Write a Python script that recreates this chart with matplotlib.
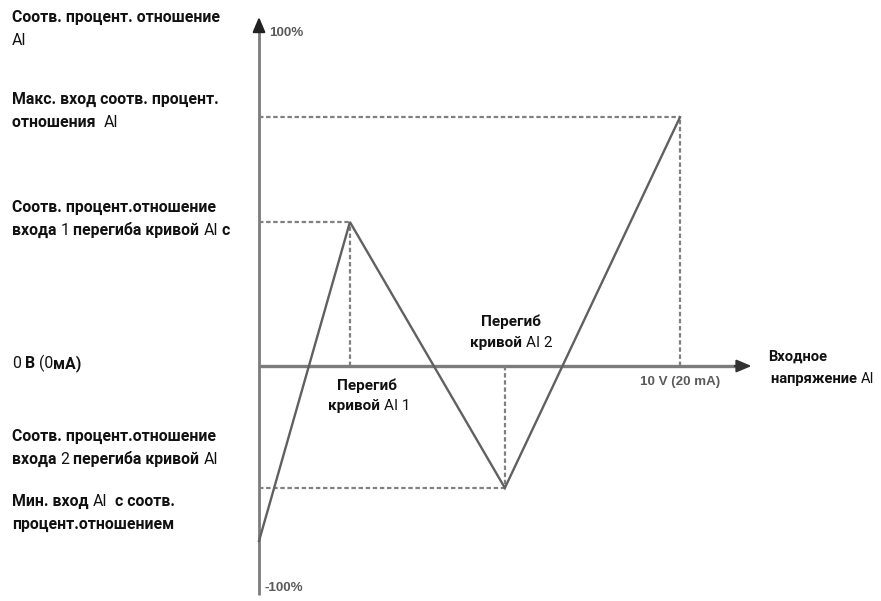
import matplotlib
matplotlib.use("Agg")
import matplotlib.pyplot as plt

# --- data: input signal (V) and corresponding percentage (%) ---
curve_x = [0.0, 2.16, 5.84, 10.0]          # start, inflection 1, inflection 2, max input
curve_y = [-52.4, 43.1, -36.5, 74.5]       # corresponding percentage

x_axis_end = 11.7
y_axis_top = 104.5
y_axis_bottom = -68.6

left_labels = [
    # (y position in %, lines -> list of (text, bold))
    (103.0, [[("Соотв. процент. отношение", True)], [("AI", False)]]),
    (78.5, [[("Макс. вход соотв. процент.", True)], [("отношения  ", True), ("AI", False)]]),
    (46.0, [[("Соотв. процент.отношение", True)],
            [("входа ", True), ("1", False), (" перегиба кривой ", True), ("AI", False), (" с", True)]]),
    (-0.6, [[("0", False), (" В ", True), ("(0", False), ("мА)", True)]]),
    (-22.5, [[("Соотв. процент.отношение", True)],
             [("входа ", True), ("2", False), (" перегиба кривой ", True), ("AI", False)]]),
    (-42.0, [[("Мин. вход ", True), ("AI", False), ("  с соотв.", True)], [("процент.отношением", True)]]),
]

FAMILY = ["Roboto", "DejaVu Sans"]
W, H, DPI = 881, 601, 100

fig = plt.figure(figsize=(W / DPI, H / DPI), dpi=DPI)
ax = fig.add_axes([0, 0, 1, 1])
px_per_v = 42.1
px_per_pct = 3.34
x0_px, y0_px = 259, 366
ax.set_xlim(-x0_px / px_per_v, (W - x0_px) / px_per_v)
ax.set_ylim(-(H - y0_px) / px_per_pct, y0_px / px_per_pct)
ax.axis("off")

axis_col = "#7c7c7c"
# axes with arrow heads
ax.plot([0, 0], [y_axis_bottom, y_axis_top - 3], color=axis_col, lw=2.0, solid_capstyle="butt")
ax.plot([0, x_axis_end - 0.3], [0, 0], color=axis_col, lw=2.4, solid_capstyle="butt")
ax.annotate("", xy=(0, y_axis_top), xytext=(0, y_axis_top - 4),
            arrowprops=dict(arrowstyle="-|>,head_length=0.9,head_width=0.38",
                            color="#222222", lw=1.5, shrinkA=0, shrinkB=0))
ax.annotate("", xy=(x_axis_end, 0), xytext=(x_axis_end - 0.4, 0),
            arrowprops=dict(arrowstyle="-|>,head_length=0.9,head_width=0.38",
                            color="#333333", lw=1.5, shrinkA=0, shrinkB=0))

# dotted guide lines
guide = dict(color="#808080", lw=1.6, linestyle=(0, (2.0, 1.2)))
for gx, gy in zip(curve_x[1:], curve_y[1:]):
    ax.plot([0, gx], [gy, gy], **guide)
    ax.plot([gx, gx], [0, gy], **guide)

# the curve
ax.plot(curve_x, curve_y, color="#606060", lw=1.7, solid_joinstyle="miter")

# axis end labels
tick_kw = dict(color="#5a5a5a", fontsize=9.6, fontweight="bold", family=["Liberation Sans", "DejaVu Sans"])
ax.text(0.25, 99.8, "100%", ha="left", va="center", **tick_kw)
ax.text(0.12, -66.4, "-100%", ha="left", va="center", **tick_kw)
ax.text(curve_x[-1], -4.8, "10 V (20 mA)", ha="center", va="center", **tick_kw)

fig.canvas.draw()
renderer = fig.canvas.get_renderer()
inv = ax.transData.inverted()


def rich_line(x_px, y_pct, segments, size=11.4):
    """Draw one line made of bold / regular pieces, starting at pixel x."""
    x = x_px
    for txt, bold in segments:
        xd = inv.transform((x, 0))[0]
        t = ax.text(xd, y_pct, txt, ha="left", va="baseline", fontsize=size,
                    fontweight="bold" if bold else "normal", family=FAMILY, color="#111111")
        x = t.get_window_extent(renderer=renderer).x1
    return x


line_gap = 23 / px_per_pct
for y, lines in left_labels:
    for i, segs in enumerate(lines):
        rich_line(12, y - i * line_gap, segs)

# inflection point labels
rich_line(337, -7.3, [("Перегиб", True)], size=11)
rich_line(328, -13.3, [("кривой ", True), ("AI 1", False)], size=11)
rich_line(481, 11.9, [("Перегиб", True)], size=11)
rich_line(470, 5.6, [("кривой ", True), ("AI 2", False)], size=11)

# horizontal axis title
rich_line(768, 1.6, [("Входное", True)], size=10.6)
rich_line(771, -5.0, [("напряжение ", True), ("AI", False)], size=10.6)

fig.savefig("out.png", dpi=DPI)
